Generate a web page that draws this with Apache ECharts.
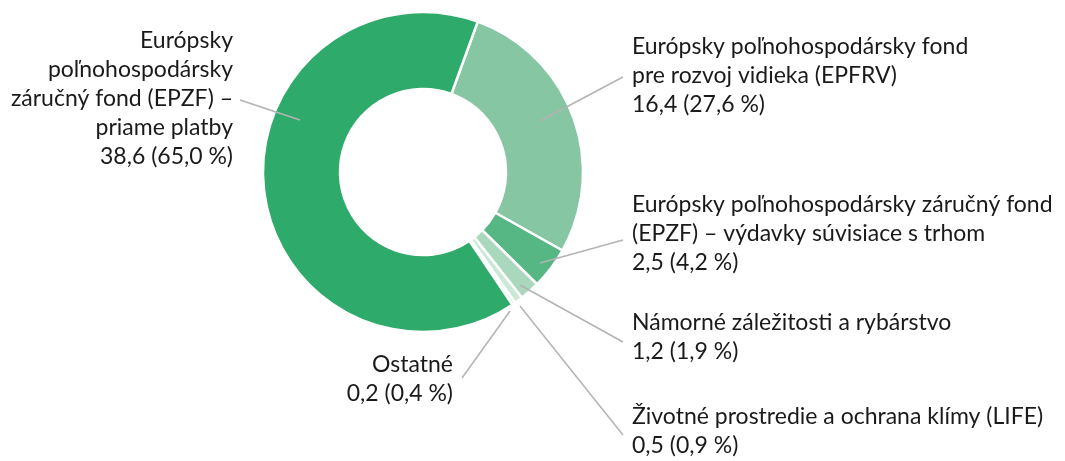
<!DOCTYPE html>
<html>
<head>
<meta charset="utf-8">
<script src="https://cdn.jsdelivr.net/npm/echarts@6/dist/echarts.min.js"></script>
<style>
  html, body { margin: 0; padding: 0; background: #fff; }
  #chart { width: 1065px; height: 461px; }
</style>
</head>
<body>
<div id="chart"></div>
<script>
// data, clockwise from the top gap
const names = [
  "Európsky poľnohospodársky fond\npre rozvoj vidieka (EPFRV)",
  "Európsky poľnohospodársky záručný fond\n(EPZF) – výdavky súvisiace s trhom",
  "Námorné záležitosti a rybárstvo",
  "Životné prostredie a ochrana klímy (LIFE)",
  "Ostatné",
  "Európsky\npoľnohospodársky\nzáručný fond (EPZF) –\npriame platby"
];
const values = [16.4, 2.5, 1.2, 0.5, 0.2, 38.6];
const valueText = ["16,4", "2,5", "1,2", "0,5", "0,2", "38,6"];
const shareText = ["27,6 %", "4,2 %", "1,9 %", "0,9 %", "0,4 %", "65,0 %"];
const colors = ["#86c6a3", "#57b784", "#a9d8bc", "#c9e9d6", "#d6efe0", "#2eaa6a"];

// label placement: anchor of the text block, end of leader line, start of leader line
const labelPos = [
  { x: 632, y: 76, align: "left", end: [623, 77], start: [540, 121] },
  { x: 632, y: 234, align: "left", end: [623, 240], start: [540, 263] },
  { x: 632, y: 337, align: "left", end: [623, 342], start: [520, 285] },
  { x: 632, y: 431, align: "left", end: [623, 435], start: [520, 306] },
  { x: 453, y: 379, align: "right", end: [462, 378], start: [510, 311] },
  { x: 233, y: 99, align: "right", end: [240, 100], start: [300, 120] }
];

const pieBase = {
  type: "pie",
  center: [423, 172],
  radius: [83, 160],
  startAngle: 70,
  clockwise: true,
  avoidLabelOverlap: false,
  emphasis: { disabled: true },
  silent: true
};

const chart = echarts.init(document.getElementById("chart"));

chart.setOption({
  animation: false,
  series: [
    // the ring itself
    Object.assign({}, pieBase, {
      z: 2,
      itemStyle: { borderColor: "#fff", borderWidth: 2.5 },
      label: { show: false },
      labelLine: { show: false },
      data: values.map((v, i) => ({
        name: names[i],
        value: v,
        itemStyle: { color: colors[i] }
      }))
    }),
    // same slices, transparent, only to carry labels and leader lines above the ring
    Object.assign({}, pieBase, {
      z: 3,
      itemStyle: { color: "rgba(0,0,0,0)" },
      label: {
        show: true,
        position: "outside",
        color: "#1a1a1a",
        fontFamily: "Lato",
        fontSize: 23,
        lineHeight: 29,
        formatter: p => names[p.dataIndex] + "\n" + valueText[p.dataIndex] + " (" + shareText[p.dataIndex] + ")"
      },
      labelLine: {
        show: true,
        lineStyle: { color: "#b3b3b3", width: 1.5 }
      },
      labelLayout: params => {
        const lp = labelPos[params.dataIndex];
        return {
          x: lp.x,
          y: lp.y,
          align: lp.align,
          verticalAlign: "middle",
          labelLinePoints: [lp.start, lp.start, lp.end]
        };
      },
      data: values.map((v, i) => ({
        name: names[i],
        value: v,
        label: { align: labelPos[i].align }
      }))
    })
  ]
});
</script>
</body>
</html>
